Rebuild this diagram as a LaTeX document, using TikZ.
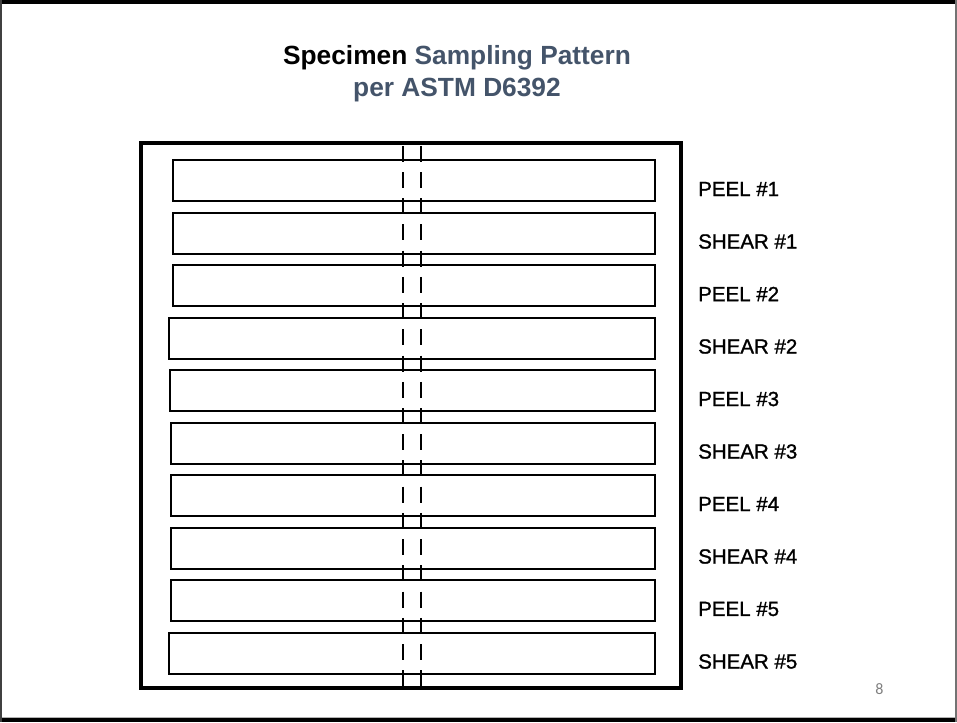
\documentclass[tikz,border=0pt]{standalone}
\usepackage{fontspec}
\setmainfont{Liberation Sans}
\newfontfamily\pagefont{Carlito}
\newfontfamily\labelfont[FakeBold=1.2]{Liberation Sans}
\usepackage{xcolor}
\usetikzlibrary{positioning}
\definecolor{slateblue}{HTML}{44546A}

\begin{document}
\begin{tikzpicture}[x=1pt,y=-1pt,
  strip/.style={draw,line width=2pt,inner sep=0pt,minimum height=41pt},
  lbl/.style={inner sep=0pt,anchor=west,font=\labelfont\fontsize{20.5}{24}\selectfont},
  cutline/.style={line width=2pt,dash pattern=on 16pt off 10.22pt,dash phase=23.4pt},
  frame/.style={line width=3.5pt}]
\useasboundingbox (0,0) rectangle (957,722);
% slide border
\fill[black] (0,0) rectangle (957,4);
\fill[black] (0,718) rectangle (957,722);
\fill[gray!60] (0,716.5) rectangle (957,718);
\fill[black!75] (0,0) rectangle (2,722);
\fill[black!55] (955,0) rectangle (957,722);
% title
\node[anchor=base,inner sep=0pt,font=\fontsize{26.3}{32}\selectfont\bfseries] (title1) at (457,64.3)
  {Specimen \textcolor{slateblue}{Sampling Pattern}};
\node[anchor=base,inner sep=0pt,font=\fontsize{26.3}{32}\selectfont\bfseries,text=slateblue] (title2) at (457,96.7)
  {per ASTM D6392};
% sheet
\draw[frame] (141,143) rectangle (681,688);
\foreach \i/\xl/\txt in {1/172/PEEL \#1,2/172/SHEAR \#1,3/172/PEEL \#2,4/168/SHEAR \#2,5/169/PEEL \#3,
                         6/170/SHEAR \#3,7/170/PEEL \#4,8/170/SHEAR \#4,9/170/PEEL \#5,10/168/SHEAR \#5}{
  \node[strip,minimum width={654-\xl},anchor=north west] (s\i) at (\xl,{159+(\i-1)*52.5}) {};
  \node[lbl,right=42pt of s\i.east,yshift=-8.5pt] (l\i) {\txt};
}
% cut lines
\coordinate (c1t) at (403,143); \coordinate (c1b) at (403,688);
\coordinate (c2t) at (421,143); \coordinate (c2b) at (421,688);
\draw[cutline] (c1t) -- (c1b);
\draw[cutline] (c2t) -- (c2b);
% page number
\node[text=gray,font=\pagefont\fontsize{16}{18}\selectfont] (pg) at (879.5,689) {8};
\end{tikzpicture}
\end{document}
